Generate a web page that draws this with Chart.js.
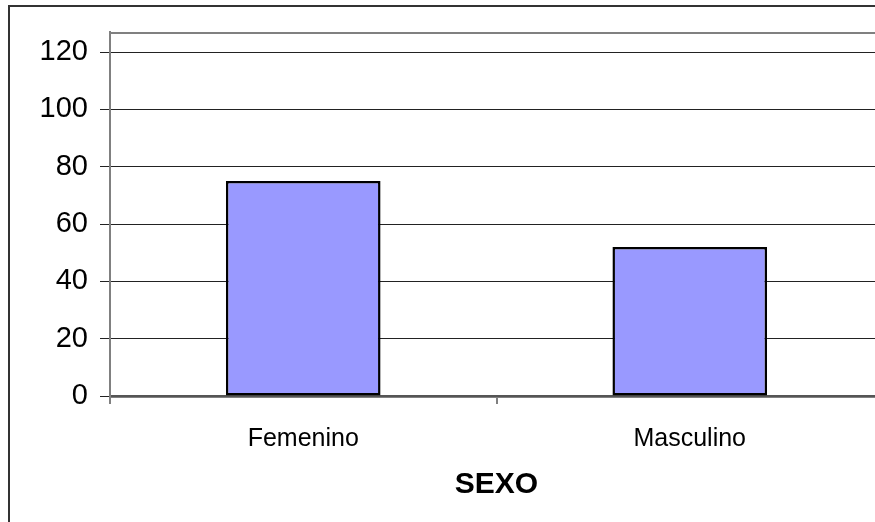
<!DOCTYPE html>
<html>
<head>
<meta charset="utf-8">
<script src="https://cdn.jsdelivr.net/npm/chart.js@4/dist/chart.umd.min.js"></script>
<style>
  html, body { margin: 0; padding: 0; background: #ffffff; overflow: hidden; }
  #wrap { width: 895px; height: 540px; position: relative; }
  canvas { display: block; }
</style>
</head>
<body>
<div id="wrap"><canvas id="chart" width="895" height="540"></canvas></div>
<script>
// Respondents by sex
const categories = ['Femenino', 'Masculino'];
const counts = [75, 52];
const yTicks = [0, 20, 40, 60, 80, 100, 120];
const axisTitle = 'SEXO';

const FONT = "'Liberation Sans', Arial, sans-serif";

// Outer chart frame plus the plot-area border on the top edge
const framePlugin = {
  id: 'frame',
  beforeDraw(chart) {
    const ctx = chart.ctx;
    const a = chart.chartArea;
    ctx.save();
    ctx.fillStyle = '#ffffff';
    ctx.fillRect(0, 0, chart.width, chart.height);
    ctx.strokeStyle = '#333333';
    ctx.lineWidth = 2;
    ctx.strokeRect(9, 6, chart.width + 20, chart.height + 20);
    ctx.strokeStyle = '#808080';
    ctx.lineWidth = 2;
    ctx.strokeRect(a.left, a.top + 1, a.right - a.left, a.bottom - a.top);
    ctx.restore();
  }
};

new Chart(document.getElementById('chart'), {
  type: 'bar',
  data: {
    labels: categories,
    datasets: [{
      data: counts,
      backgroundColor: '#9999ff',
      borderColor: '#000000',
      borderWidth: 2.5,
      borderSkipped: false,
      barPercentage: 0.4,
      categoryPercentage: 1.0
    }]
  },
  options: {
    responsive: false,
    devicePixelRatio: 1,
    animation: false,
    layout: { padding: { top: 32, right: 12, left: 0, bottom: 0 } },
    plugins: { legend: { display: false }, tooltip: { enabled: false } },
    scales: {
      x: {
        offset: true,
        grid: {
          offset: true,
          drawOnChartArea: false,
          drawTicks: true,
          tickLength: 8,
          color: '#808080',
          lineWidth: 2
        },
        border: { display: true, color: '#555555', width: 2 },
        ticks: {
          color: '#000000',
          padding: 20,
          font: { family: FONT, size: 25 }
        },
        title: {
          display: true,
          text: axisTitle,
          color: '#000000',
          font: { family: FONT, size: 30, weight: 'bold' },
          padding: { top: 0, bottom: 37 }
        },
        afterFit(scale) { scale.height = 144; }
      },
      y: {
        min: 0,
        max: 127,
        afterBuildTicks(scale) {
          scale.ticks = yTicks.map(v => ({ value: v }));
        },
        grid: {
          color: '#222222',
          lineWidth: 1,
          tickLength: 10,
          drawTicks: true
        },
        border: { display: true, color: '#808080', width: 2 },
        ticks: {
          color: '#000000',
          padding: 12,
          font: { family: FONT, size: 29 }
        },
        afterFit(scale) { scale.width = 110; }
      }
    }
  },
  plugins: [framePlugin]
});
</script>
</body>
</html>
